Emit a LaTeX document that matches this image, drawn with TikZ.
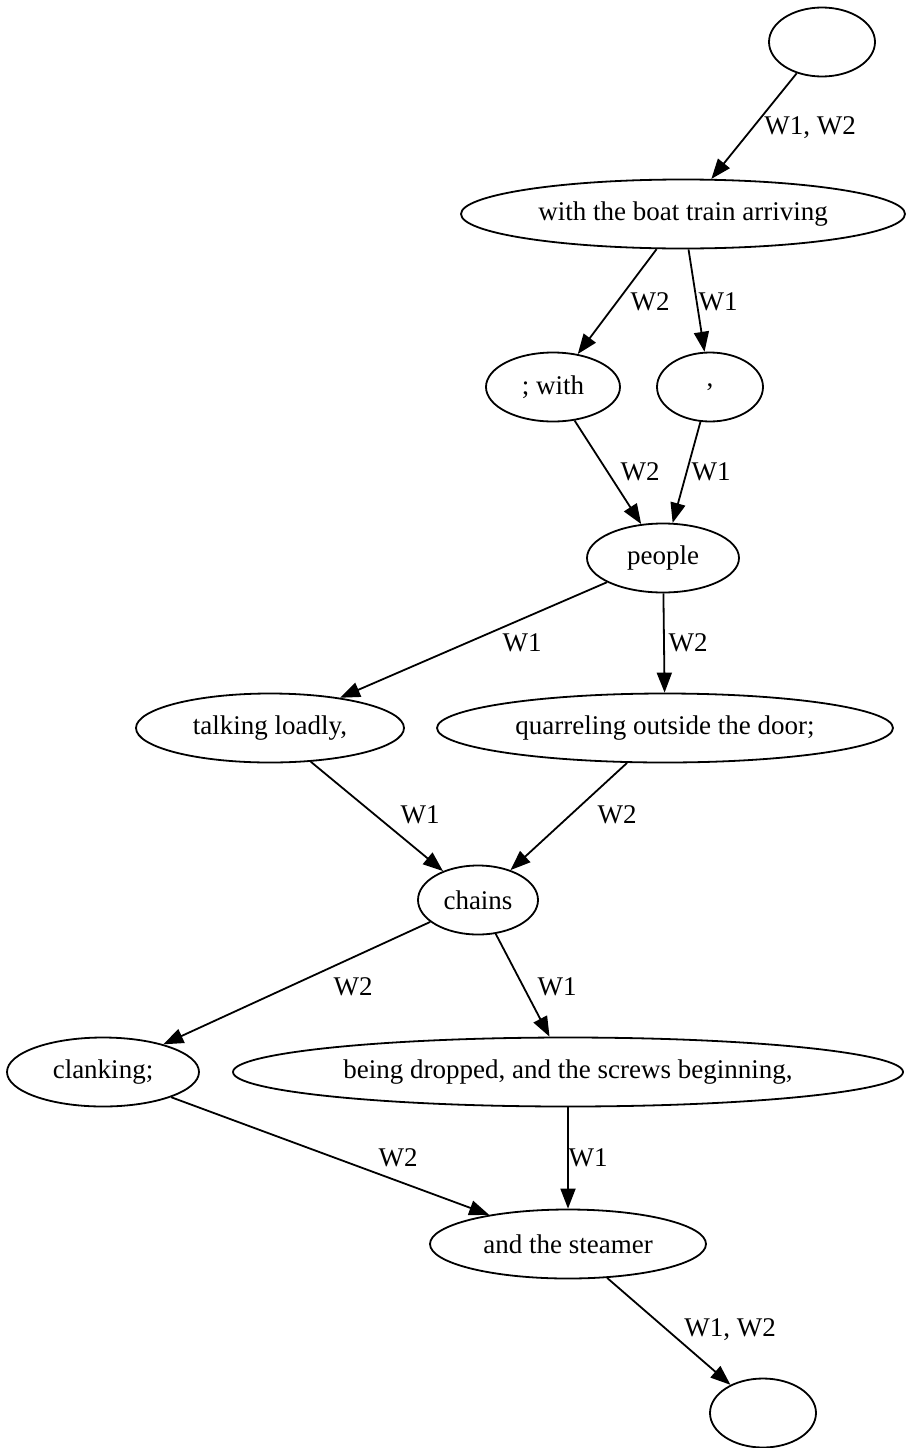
\documentclass[tikz,border=0pt]{standalone}
\usepackage{fontspec}
\setmainfont{Liberation Serif}
\usetikzlibrary{shapes.geometric,arrows.meta}

\tikzset{
  word/.style={ellipse, draw, line width=1.8pt, inner sep=0pt,
    minimum height=69pt, minimum width=#1,
    font=\fontsize{27}{32}\selectfont},
  lbl/.style={inner sep=0pt, font=\fontsize{27}{32}\selectfont},
  flow/.style={line width=1.8pt, -{Triangle[length=20pt,width=15pt]}}
}

\begin{document}
\begin{tikzpicture}[x=1pt,y=-1pt]
\useasboundingbox (0,0) rectangle (907,1448);

% rank rows
\node[word=106pt] (start) at (822,42) {};
\node[word=444pt] (boat) at (683,214) {with the boat train arriving};
\node[word=134pt] (semi) at (553,387) {; with};
\node[word=106pt] (comma) at (710,387) {,};
\node[word=152pt] (people) at (663,558) {people};
\node[word=268pt] (talk) at (270,728) {talking loadly,};
\node[word=456pt] (quarrel) at (665,728) {quarreling outside the door;};
\node[word=120pt] (chains) at (478,900) {chains};
\node[word=192pt] (clank) at (103,1072) {clanking;};
\node[word=670pt] (drop) at (568,1072) {being dropped, and the screws beginning,};
\node[word=276pt] (steamer) at (568,1244) {and the steamer};
\node[word=106pt] (end) at (763,1413) {};

% witness edges
\draw[flow] (start) -- (boat);
\draw[flow] (boat) -- (semi);
\draw[flow] (boat) -- (comma);
\draw[flow] (semi) -- (people);
\draw[flow] (comma) -- (people);
\draw[flow] (people) -- (talk);
\draw[flow] (people) -- (quarrel);
\draw[flow] (talk) -- (chains);
\draw[flow] (quarrel) -- (chains);
\draw[flow] (chains) -- (clank);
\draw[flow] (chains) -- (drop);
\draw[flow] (clank) -- (steamer);
\draw[flow] (drop) -- (steamer);
\draw[flow] (steamer) -- (end);

% edge labels
\node[lbl] (l1) at (810,128) {W1, W2};
\node[lbl] (l2) at (650,302) {W2};
\node[lbl] (l3) at (718,302) {W1};
\node[lbl] (l4) at (640,472) {W2};
\node[lbl] (l5) at (711,472) {W1};
\node[lbl] (l6) at (522,643) {W1};
\node[lbl] (l7) at (688,643) {W2};
\node[lbl] (l8) at (420,815) {W1};
\node[lbl] (l9) at (617,815) {W2};
\node[lbl] (l10) at (353,987) {W2};
\node[lbl] (l11) at (557,987) {W1};
\node[lbl] (l12) at (398,1158) {W2};
\node[lbl] (l13) at (588,1158) {W1};
\node[lbl] (l14) at (730,1330) {W1, W2};
\end{tikzpicture}
\end{document}
